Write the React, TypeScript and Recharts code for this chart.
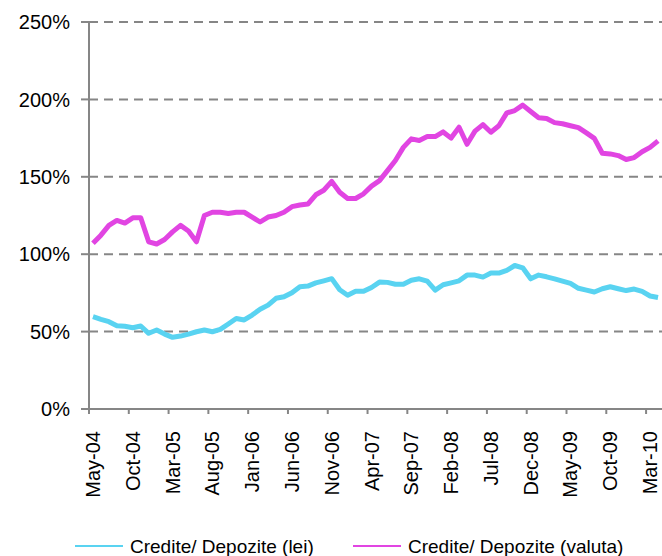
import React from "react";
import { LineChart, Line, XAxis, YAxis, CartesianGrid, Legend } from "recharts";

const months = [
  "May-04","Jun-04","Jul-04","Aug-04","Sep-04","Oct-04","Nov-04","Dec-04",
  "Jan-05","Feb-05","Mar-05","Apr-05","May-05","Jun-05","Jul-05","Aug-05","Sep-05","Oct-05","Nov-05","Dec-05",
  "Jan-06","Feb-06","Mar-06","Apr-06","May-06","Jun-06","Jul-06","Aug-06","Sep-06","Oct-06","Nov-06","Dec-06",
  "Jan-07","Feb-07","Mar-07","Apr-07","May-07","Jun-07","Jul-07","Aug-07","Sep-07","Oct-07","Nov-07","Dec-07",
  "Jan-08","Feb-08","Mar-08","Apr-08","May-08","Jun-08","Jul-08","Aug-08","Sep-08","Oct-08","Nov-08","Dec-08",
  "Jan-09","Feb-09","Mar-09","Apr-09","May-09","Jun-09","Jul-09","Aug-09","Sep-09","Oct-09","Nov-09","Dec-09",
  "Jan-10","Feb-10","Mar-10","Apr-10",
];

const lei = [
  59.6, 57.9, 56.4, 53.8, 53.4, 52.5, 53.6, 48.9, 51.0, 48.4,
  46.3, 47.1, 48.4, 49.9, 51.0, 49.9, 51.4, 54.9, 58.5, 57.5,
  60.7, 64.4, 67.1, 71.5, 72.5, 75.1, 79.0, 79.4, 81.5, 82.8,
  84.2, 77.0, 73.5, 76.0, 76.0, 78.5, 82.0, 81.8, 80.6, 80.6,
  83.2, 84.1, 82.6, 76.8, 80.3, 81.5, 82.8, 86.5, 86.5, 85.2,
  87.8, 87.8, 89.6, 92.7, 91.2, 84.1, 86.5, 85.4, 84.1, 82.6,
  81.2, 78.0, 76.8, 75.6, 77.7, 79.0, 77.7, 76.5, 77.5, 76.0,
  73.0, 72.0,
];

const valuta = [
  107.0, 112.3, 118.6, 121.8, 120.1, 123.5, 123.5, 108.0, 106.6, 109.5,
  114.4, 118.6, 115.0, 108.0, 125.0, 127.1, 127.1, 126.3, 127.1, 127.1,
  124.0, 120.8, 124.0, 125.0, 127.1, 130.7, 131.8, 132.4, 138.4, 141.3,
  147.0, 140.0, 136.0, 136.0, 139.0, 144.0, 147.5, 154.0, 160.5, 169.0,
  174.5, 173.5, 176.0, 176.0, 179.0, 175.0, 182.0, 171.0, 179.5, 183.7,
  178.8, 183.0, 191.3, 192.8, 196.3, 192.2, 188.2, 187.7, 185.0, 184.3,
  183.0, 181.8, 178.4, 174.8, 165.2, 164.8, 163.7, 161.2, 162.4, 166.2,
  169.0, 173.2,
];

const xTicks = [0, 5, 10, 15, 20, 25, 30, 35, 40, 45, 50, 55, 60, 65, 70];
const yTicks = [0, 50, 100, 150, 200, 250];

const seriesNames = ["Credite/ Depozite (lei)", "Credite/ Depozite (valuta)"];
const CYAN = "#59D3F1";
const MAGENTA = "#E145E2";
const GRAY = "#868686";
const FONT = "'Liberation Sans', Arial, sans-serif";

const data = months.map((m, i) => ({ i, month: m, lei: lei[i], valuta: valuta[i] }));

const CHART_W = 662;
const CHART_H = 556;
const Y_AXIS_W = 89;
const PLOT_W = CHART_W - Y_AXIS_W;
const HALF_BAND = PLOT_W / months.length / 2;

const XTick = (props: any) => {
  const { x, y, payload } = props;
  const label = months[payload.value];
  const tx = x - HALF_BAND;
  return (
    <g>
      <line x1={tx} y1={y} x2={tx} y2={y + 5} stroke={GRAY} strokeWidth={2} />
      <g transform={`translate(${x},${y + 22}) rotate(-90)`}>
        <text x={0} y={0} dy="0.35em" textAnchor="end" fontSize={20} fontFamily={FONT} fill="#000">
          {label}
        </text>
      </g>
    </g>
  );
};

const LegendContent = () => (
  <svg width={CHART_W} height={40} style={{ display: "block" }}>
    <line x1={75} y1={30} x2={123} y2={30} stroke={CYAN} strokeWidth={2} />
    <text x={130} y={30} dy="0.35em" fontSize={19} fontFamily={FONT} fill="#000">
      {seriesNames[0]}
    </text>
    <line x1={353} y1={30} x2={401} y2={30} stroke={MAGENTA} strokeWidth={2} />
    <text x={408} y={30} dy="0.35em" fontSize={19} fontFamily={FONT} fill="#000">
      {seriesNames[1]}
    </text>
  </svg>
);

export default function App() {
  return (
    <div style={{ position: "absolute", left: 0, top: 0, width: CHART_W, height: CHART_H, background: "#fff" }}>
      <LineChart
        width={CHART_W}
        height={CHART_H}
        data={data}
        margin={{ top: 22, right: 0, left: 0, bottom: 0 }}
      >
        <CartesianGrid
          vertical={false}
          stroke={GRAY}
          strokeWidth={2}
          strokeDasharray="9 6"
        />
        <XAxis
          dataKey="i"
          type="number"
          domain={[-0.5, months.length - 0.5]}
          ticks={xTicks}
          interval={0}
          height={107}
          tickLine={false}
          tickSize={0}
          tickMargin={0}
          axisLine={{ stroke: GRAY, strokeWidth: 2 }}
          tick={<XTick />}
          allowDataOverflow
        />
        <YAxis
          type="number"
          domain={[0, 250]}
          ticks={yTicks}
          width={Y_AXIS_W}
          tickFormatter={(v: number) => `${v}%`}
          tickSize={8}
          tickMargin={11}
          tickLine={{ stroke: GRAY, strokeWidth: 2 }}
          axisLine={{ stroke: GRAY, strokeWidth: 2 }}
          tick={{ fontSize: 20, fontFamily: FONT, fill: "#000" }}
        />
        <Legend
          verticalAlign="bottom"
          height={40}
          content={<LegendContent />}
          wrapperStyle={{ left: 0, bottom: 0, width: CHART_W, height: 40 }}
        />
        <Line
          type="linear"
          dataKey="lei"
          name={seriesNames[0]}
          stroke={CYAN}
          strokeWidth={5}
          strokeLinejoin="round"
          dot={false}
          activeDot={false}
          isAnimationActive={false}
        />
        <Line
          type="linear"
          dataKey="valuta"
          name={seriesNames[1]}
          stroke={MAGENTA}
          strokeWidth={5}
          strokeLinejoin="round"
          dot={false}
          activeDot={false}
          isAnimationActive={false}
        />
      </LineChart>
    </div>
  );
}
